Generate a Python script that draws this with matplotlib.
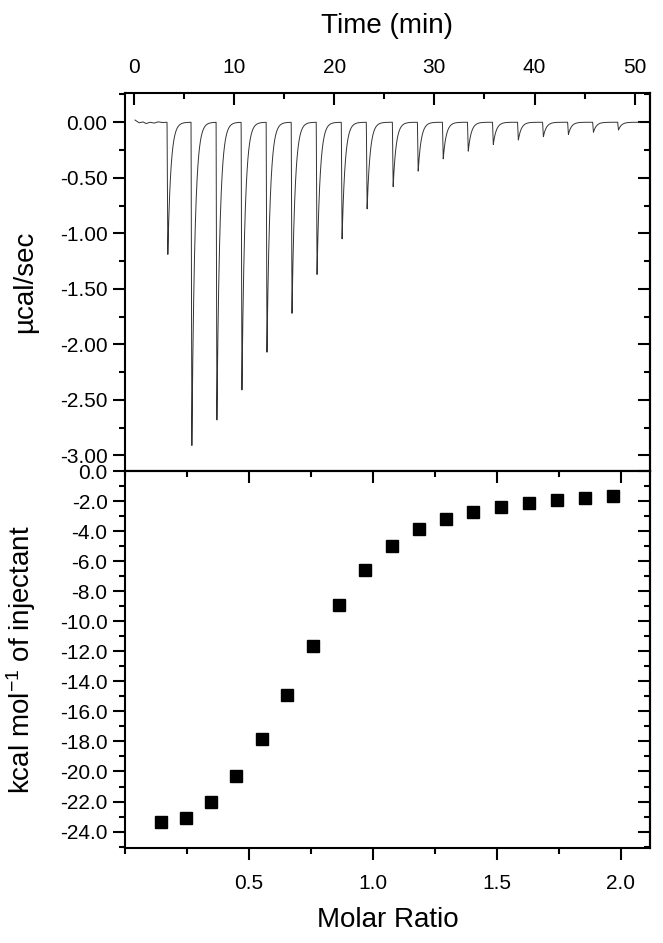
import matplotlib
matplotlib.use('Agg')
import matplotlib.pyplot as plt
from matplotlib.ticker import MultipleLocator, FormatStrFormatter
import numpy as np

plt.rcParams['font.family'] = ['Liberation Sans', 'DejaVu Sans']
plt.rcParams['mathtext.default'] = 'regular'
plt.rcParams['axes.unicode_minus'] = False

# ── raw thermogram: injection times (min) and peak minima (ucal/sec) ──
inj_time = [3.3, 5.7, 8.2, 10.7, 13.2, 15.7, 18.2, 20.7, 23.2, 25.8,
            28.3, 30.8, 33.3, 35.8, 38.3, 40.8, 43.3, 45.8, 48.3]
peak_depth = [-1.19, -2.91, -2.68, -2.41, -2.07, -1.72, -1.37, -1.05, -0.78, -0.58,
              -0.44, -0.33, -0.26, -0.20, -0.16, -0.13, -0.11, -0.09, -0.07]
# short stretch of baseline before the first injection
base_t = [0.1, 0.5, 0.9, 1.2, 1.6, 2.0, 2.4, 2.8, 3.2]
base_y = [0.02, -0.005, 0.003, -0.012, 0.0, -0.008, 0.004, -0.003, 0.0]
t_end = 50.5

# ── integrated heats ──
molar_ratio = [0.145, 0.246, 0.346, 0.448, 0.551, 0.654, 0.758, 0.864, 0.970,
               1.078, 1.187, 1.297, 1.406, 1.516, 1.629, 1.743, 1.856, 1.968]
heat = [-23.38, -23.09, -22.02, -20.31, -17.82, -14.93, -11.65, -8.93, -6.58,
        -4.98, -3.87, -3.15, -2.69, -2.35, -2.09, -1.93, -1.78, -1.65]

# build the trace: sharp drop then exponential return to baseline
t = np.linspace(0.1, t_end, 6000)
y = np.interp(t, base_t, base_y, right=0.0)
t_drop, tau = 0.08, 0.30
for t0, d in zip(inj_time, peak_depth):
    dt = t - t0
    seg = np.where((dt > 0) & (dt <= t_drop), d * dt / t_drop, 0.0)
    seg = np.where(dt > t_drop, d * np.exp(-(dt - t_drop) / tau), seg)
    y += seg
# insert exact minima so thin peaks keep their depth
pk_t = np.array(inj_time) + t_drop
t = np.concatenate([t, pk_t])
y = np.concatenate([y, [0.0] * len(pk_t)])
order = np.argsort(t)
t, y = t[order], y[order]
for tp, d in zip(pk_t, peak_depth):
    i = np.searchsorted(t, tp)
    y[i] = d + np.interp(tp, base_t, base_y, right=0.0)

fig = plt.figure(figsize=(6.63, 9.43), dpi=100)
ax1 = fig.add_axes([0.1885, 0.5005, 0.7915, 0.4005])
ax2 = fig.add_axes([0.1885, 0.1007, 0.7915, 0.3998])

ax1.plot(t, y, color='#333333', linewidth=0.7)
ax1.set_xlim(-0.9, 51.5)
ax1.set_ylim(-3.14, 0.26)
ax1.xaxis.set_ticks_position('top')
ax1.xaxis.set_label_position('top')
ax1.xaxis.set_major_locator(MultipleLocator(10))
ax1.xaxis.set_minor_locator(MultipleLocator(5))
ax1.yaxis.set_major_locator(MultipleLocator(0.5))
ax1.yaxis.set_minor_locator(MultipleLocator(0.25))
ax1.yaxis.set_major_formatter(FormatStrFormatter('%.2f'))
ax1.set_xlabel('Time (min)', fontsize=20, labelpad=18)
ax1.set_ylabel('µcal/sec', fontsize=20)
ax1.tick_params(axis='x', which='both', direction='in', top=True, bottom=False,
                labelsize=15, pad=12)
ax1.tick_params(axis='y', which='both', direction='out', left=True, right=False,
                labelsize=15, pad=4)

ax2.plot(molar_ratio, heat, 's', color='black', markersize=8.6)
ax2.set_xlim(0, 2.117)
ax2.set_ylim(-25.1, 0.02)
ax2.set_xticks([0.5, 1.0, 1.5, 2.0])
ax2.xaxis.set_minor_locator(MultipleLocator(0.25))
ax2.yaxis.set_major_locator(MultipleLocator(2))
ax2.yaxis.set_minor_locator(MultipleLocator(1))
ax2.yaxis.set_major_formatter(FormatStrFormatter('%.1f'))
ax2.set_xlabel('Molar Ratio', fontsize=20, labelpad=10)
ax2.set_ylabel('kcal mol$^{-1}$ of injectant', fontsize=20)
ax2.tick_params(axis='both', which='both', direction='out', labelsize=15, pad=4)
ax2.tick_params(axis='x', which='major', pad=10)

for ax in (ax1, ax2):
    ax.tick_params(which='major', length=8.5, width=1.5)
    ax.tick_params(which='minor', length=4.5, width=1.5)
    for s in ax.spines.values():
        s.set_linewidth(1.5)
    ax.yaxis.set_label_coords(-0.165, 0.5)

# mirror ticks pointing inward on the right (both panels) and top of lower panel
for ax in (ax1, ax2):
    ry = ax.secondary_yaxis('right')
    ry.set_yticks(ax.get_yticks())
    ry.yaxis.set_minor_locator(ax.yaxis.get_minor_locator())
    ry.tick_params(which='both', direction='in', labelright=False, width=1.5)
    ry.tick_params(which='major', length=8.5)
    ry.tick_params(which='minor', length=4.5)
    ry.spines['right'].set_linewidth(1.5)
tx = ax2.secondary_xaxis('top')
tx.set_xticks([0.5, 1.0, 1.5, 2.0])
tx.xaxis.set_minor_locator(MultipleLocator(0.25))
tx.tick_params(which='both', direction='in', labeltop=False, width=1.5)
tx.tick_params(which='major', length=8.5)
tx.tick_params(which='minor', length=4.5)
tx.spines['top'].set_linewidth(1.5)

fig.savefig('out.png', dpi=100)
